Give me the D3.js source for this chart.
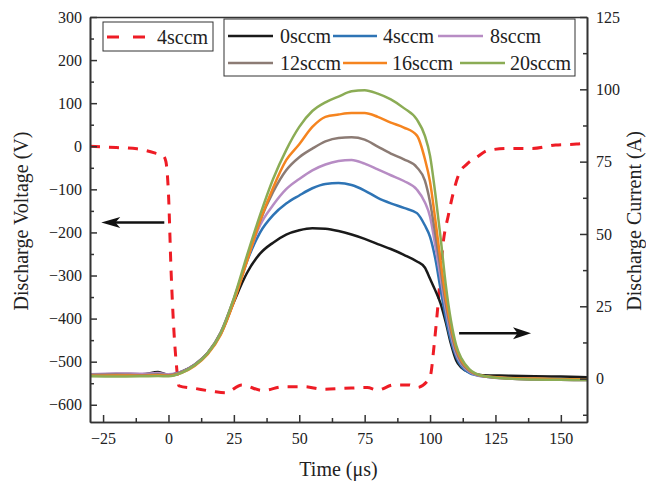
<!DOCTYPE html>
<html>
<head>
<meta charset="utf-8">
<script src="https://cdn.jsdelivr.net/npm/d3@7"></script>
<style>
  body { margin: 0; background: #fff; }
  svg { display: block; }
</style>
</head>
<body>
<svg id="chart" width="646" height="481"></svg>
<script>
// time axis (µs) shared by the current traces
const times = [-30, -20, -10, -4, 0, 5, 10, 15, 20, 25, 30, 35, 40, 45, 50, 55, 60, 65, 70, 75, 80, 85, 90, 95, 98, 100, 102, 104, 106, 108, 110, 112, 115, 120, 130, 140, 150, 160];

// discharge current (A), one array per flow rate
const current0 = [1.2, 1.6, 1.5, 2.3, 1.3, 2.4, 4.8, 8.8, 15.5, 26.5, 36.5, 43.2, 47, 49.8, 51.3, 52, 51.8, 51, 49.8, 48.3, 46.5, 44.8, 42.8, 40.5, 38.4, 34.5, 30.5, 26, 19.5, 12, 6.3, 3.8, 2.2, 1.2, 1.0, 0.8, 0.7, 0.5];
const current4 = [1.4, 1.3, 1.5, 1.6, 1.2, 2.3, 4.8, 8.8, 15.8, 27, 40.5, 50.5, 56.5, 60.5, 63.3, 65.8, 67.3, 67.6, 66.9, 65, 62.5, 60.6, 59, 57.2, 53, 49, 41.5, 31, 21, 13, 7.5, 4.2, 2, 0.8, 0.2, -0.1, -0.3, -0.4];
const current8 = [1.5, 1.8, 1.7, 1.9, 1.5, 2.4, 4.9, 8.9, 16, 27.5, 41, 53, 60, 65.5, 69, 72, 74, 75.2, 75.6, 74.3, 72.3, 70.3, 68.3, 65.3, 61, 56, 46, 35, 24, 15, 8.5, 5, 2.4, 0.8, 0, -0.3, -0.4, -0.5];
const current12 = [1.3, 1.4, 1.2, 1.5, 1.2, 2.2, 4.8, 8.9, 16, 27.5, 41, 54.5, 64.5, 72, 76.5, 79.5, 82, 83.2, 83.4, 82.6, 80.2, 77.8, 75.8, 73, 68.5, 61, 50, 38, 26, 16.5, 9.5, 5.5, 2.7, 0.9, 0, -0.3, -0.4, -0.5];
const current16 = [1.0, 1.1, 1.0, 1.2, 1.0, 2.0, 4.4, 8.4, 15.2, 26.5, 40.5, 54.5, 66, 75.5, 81, 87, 90.5, 91.3, 91.8, 91.8, 90.5, 88.5, 86.8, 84, 76, 68, 55, 41, 28, 18, 10.5, 6.3, 3, 1, 0.2, 0, -0.2, -0.2];
const current20 = [0.8, 0.7, 0.8, 0.9, 0.8, 2.0, 4.6, 8.8, 15.8, 27.8, 42.5, 56.5, 69, 79, 87, 92.5, 95.5, 97.5, 99.3, 99.7, 98.5, 96.5, 93.5, 89.5, 84, 77, 64, 49, 32.5, 20, 11.5, 7, 3.3, 1, 0, -0.3, -0.4, -0.5];

// discharge voltage (V) for 4 sccm
const voltageTimes = [-30, -20, -12, -5, -2, -1, 0, 1, 2, 3, 4, 10, 17, 22, 28, 36, 44, 52, 59, 67, 76, 80, 86, 92, 95, 99, 100.2, 101.5, 103, 105, 107, 109, 111, 114, 118, 122, 130, 139, 148, 156, 160];
const voltage4 = [0, -3, -6, -16, -22, -35, -110, -290, -420, -505, -556, -562, -569, -572, -554, -567, -558, -558, -564, -562, -560, -566, -554, -554, -560, -545, -531, -465, -370, -225, -160, -105, -65, -42, -25, -10, -5, -5, 3, 5, 8];

const seriesNames = ['0sccm', '4sccm', '8sccm', '12sccm', '16sccm', '20sccm'];
const seriesColors = ['#1a1a1a', '#2e74b5', '#b78cc4', '#8c7b74', '#f5841f', '#8bac55'];
const currentSeries = [current0, current4, current8, current12, current16, current20];

// ticks
const timeTicks = [-25, 0, 25, 50, 75, 100, 125, 150];
const timeMinor = [-12.5, 12.5, 37.5, 62.5, 87.5, 112.5, 137.5];
const voltageTicks = [-600, -500, -400, -300, -200, -100, 0, 100, 200, 300];
const voltageMinor = [-550, -450, -350, -250, -150, -50, 50, 150, 250];
const currentTicks = [0, 25, 50, 75, 100, 125];
const currentMinor = [-12.5, 12.5, 37.5, 62.5, 87.5, 112.5];

// arrows: [t0, value, t1] pointing from t0 to t1
const voltageArrow = [-1.6, -177, -25.7];
const currentArrow = [111.1, 15.7, 138.6];

const svg = d3.select('#chart');
const plot = { left: 90, right: 587, top: 17, bottom: 422 };
const serif = '"Liberation Serif", "Times New Roman", Times, serif';

const x = d3.scaleLinear().domain([-30, 160]).range([plot.left, plot.right]);
const yV = d3.scaleLinear().domain([-640, 300]).range([plot.bottom, plot.top]);
const yA = d3.scaleLinear().domain([-15, 125]).range([plot.bottom, plot.top]);

const fontTick = '16px';
const fontTitle = '20px';

function addText(parent) {
  return parent.append('text')
    .attr('font-family', serif)
    .style('font-family', serif)
    .attr('fill', '#222');
}

// voltage (dashed) drawn first
const vLine = d3.line()
  .x((d, i) => x(voltageTimes[i]))
  .y((d) => yV(d))
  .curve(d3.curveMonotoneX);

svg.append('clipPath').attr('id', 'clip')
  .append('rect')
  .attr('x', plot.left).attr('y', plot.top)
  .attr('width', plot.right - plot.left).attr('height', plot.bottom - plot.top);

const lines = svg.append('g').attr('clip-path', 'url(#clip)');

lines.append('path')
  .datum(voltage4)
  .attr('d', vLine)
  .attr('fill', 'none')
  .attr('stroke', '#ee1c25')
  .attr('stroke-width', 3)
  .attr('stroke-dasharray', '10,9');

const aLine = d3.line()
  .x((d, i) => x(times[i]))
  .y((d) => yA(d))
  .curve(d3.curveMonotoneX);

lines.selectAll('path.current')
  .data(currentSeries)
  .join('path')
  .attr('class', 'current')
  .attr('d', aLine)
  .attr('fill', 'none')
  .attr('stroke', (d, i) => seriesColors[i])
  .attr('stroke-width', 2.5)
  .attr('stroke-linejoin', 'round');

// axes
function styleAxis(g) {
  g.attr('font-family', serif);
  g.selectAll('.domain').attr('stroke', '#333').attr('stroke-width', 1.6);
  g.selectAll('.tick line').attr('stroke', '#333').attr('stroke-width', 1.5);
  g.selectAll('text')
    .attr('font-family', serif)
    .style('font-family', serif)
    .style('font-size', fontTick)
    .attr('fill', '#222');
}

svg.append('g')
  .attr('transform', `translate(0,${plot.bottom})`)
  .call(d3.axisBottom(x).tickValues(timeMinor).tickFormat('').tickSizeInner(-4).tickSizeOuter(0))
  .call(styleAxis);
svg.append('g')
  .attr('transform', `translate(0,${plot.bottom})`)
  .call(d3.axisBottom(x).tickValues(timeTicks).tickSizeInner(-7).tickSizeOuter(0).tickPadding(11))
  .call(styleAxis);

svg.append('g')
  .attr('transform', `translate(0,${plot.top})`)
  .call(d3.axisTop(x).tickValues([]).tickSizeOuter(0))
  .call(styleAxis);

svg.append('g')
  .attr('transform', `translate(${plot.left},0)`)
  .call(d3.axisLeft(yV).tickValues(voltageMinor).tickFormat('').tickSizeInner(-4).tickSizeOuter(0))
  .call(styleAxis);
svg.append('g')
  .attr('transform', `translate(${plot.left},0)`)
  .call(d3.axisLeft(yV).tickValues(voltageTicks).tickSizeInner(-7).tickSizeOuter(0).tickPadding(8))
  .call(styleAxis);

svg.append('g')
  .attr('transform', `translate(${plot.right},0)`)
  .call(d3.axisRight(yA).tickValues(currentMinor).tickFormat('').tickSizeInner(-4).tickSizeOuter(0))
  .call(styleAxis);
svg.append('g')
  .attr('transform', `translate(${plot.right},0)`)
  .call(d3.axisRight(yA).tickValues(currentTicks).tickSizeInner(-7).tickSizeOuter(0).tickPadding(9))
  .call(styleAxis);

// axis titles
addText(svg)
  .attr('transform', `translate(28,221) rotate(-90)`)
  .attr('text-anchor', 'middle')
  .style('font-size', fontTitle)
  .text('Discharge Voltage (V)');
addText(svg)
  .attr('transform', `translate(641,221) rotate(-90)`)
  .attr('text-anchor', 'middle')
  .style('font-size', fontTitle)
  .text('Discharge Current (A)');
addText(svg)
  .attr('x', (plot.left + plot.right) / 2)
  .attr('y', 476)
  .attr('text-anchor', 'middle')
  .style('font-size', fontTitle)
  .text('Time (μs)');

// arrows
function drawArrow(x0, x1, y, headLen, halfW) {
  const dir = Math.sign(x1 - x0);
  svg.append('line')
    .attr('x1', x0).attr('x2', x1 - dir * headLen * 0.6)
    .attr('y1', y).attr('y2', y)
    .attr('stroke', '#111').attr('stroke-width', 2.6);
  svg.append('path')
    .attr('d', `M${x1},${y} L${x1 - dir * headLen},${y - halfW} L${x1 - dir * headLen * 0.75},${y} L${x1 - dir * headLen},${y + halfW} Z`)
    .attr('fill', '#111');
}
drawArrow(x(voltageArrow[0]), x(voltageArrow[2]), yV(voltageArrow[1]), 19, 5.5);
drawArrow(x(currentArrow[0]), x(currentArrow[2]), yA(currentArrow[1]), 18, 6);

// legend 1 (voltage)
const leg1 = svg.append('g');
leg1.append('rect')
  .attr('x', 103).attr('y', 22).attr('width', 110).attr('height', 29)
  .attr('fill', '#fff').attr('stroke', '#333').attr('stroke-width', 1);
leg1.append('line')
  .attr('x1', 107).attr('x2', 147).attr('y1', 37).attr('y2', 37)
  .attr('stroke', '#ee1c25').attr('stroke-width', 3).attr('stroke-dasharray', '12,14');
addText(leg1)
  .attr('x', 157).attr('y', 44)
  .style('font-size', fontTitle)
  .text('4sccm');

// legend 2 (currents)
const leg2 = svg.append('g');
leg2.append('rect')
  .attr('x', 224).attr('y', 19).attr('width', 351).attr('height', 57)
  .attr('fill', '#fff').attr('stroke', '#333').attr('stroke-width', 1);
const legendSlots = [
  [228, 273, 280, 36], [333, 377, 383, 36], [438, 483, 490, 36],
  [228, 273, 280, 63], [343, 387, 392, 63], [460, 505, 510, 63]
];
seriesNames.forEach((name, i) => {
  const [l0, l1, tx, ly] = legendSlots[i];
  leg2.append('line')
    .attr('x1', l0).attr('x2', l1).attr('y1', ly).attr('y2', ly)
    .attr('stroke', seriesColors[i]).attr('stroke-width', 2.6);
  addText(leg2)
    .attr('x', tx).attr('y', ly + 7)
    .style('font-size', fontTitle)
    .text(name);
});
</script>
</body>
</html>
